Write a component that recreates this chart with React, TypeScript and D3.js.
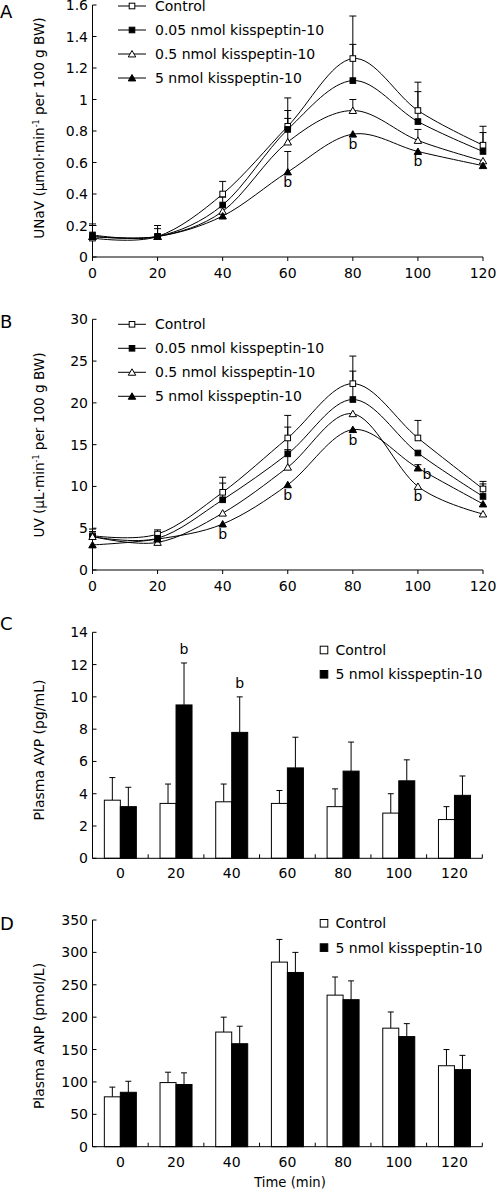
import React from "react";
import * as d3 from "d3";

// ---------- data ----------
const times = [0, 20, 40, 60, 80, 100, 120];
const lineSeriesNames = [
  "Control",
  "0.05 nmol kisspeptin-10",
  "0.5 nmol kisspeptin-10",
  "5 nmol kisspeptin-10",
];
const barSeriesNames = ["Control", "5 nmol kisspeptin-10"];

// Panel A: UNaV (µmol·min-1 per 100 g BW)
const unavControl = [0.12, 0.13, 0.4, 0.83, 1.26, 0.93, 0.71];
const unav005 = [0.14, 0.13, 0.33, 0.81, 1.12, 0.86, 0.67];
const unav05 = [0.13, 0.13, 0.29, 0.73, 0.93, 0.74, 0.61];
const unav5 = [0.13, 0.13, 0.26, 0.54, 0.78, 0.67, 0.58];
const unavControlSE = [0.09, 0.07, 0.08, 0.18, 0.27, 0.18, 0.12];
const unav005SE = [0.06, 0.05, 0.05, 0.12, 0.23, 0.19, 0.12];
const unav05SE = [0, 0, 0, 0.15, 0.07, 0.07, 0];
const unav5SE = [0, 0, 0, 0.13, 0, 0, 0];
const unavSig = [
  { s: 3, t: 60, beside: false },
  { s: 3, t: 80, beside: false },
  { s: 3, t: 100, beside: false },
];

// Panel B: UV (µL·min-1 per 100 g BW)
const uvControl = [4.1, 4.3, 9.3, 15.8, 22.3, 15.8, 9.7];
const uv005 = [4.0, 3.8, 8.4, 13.9, 20.4, 14.0, 8.8];
const uv05 = [4.0, 3.3, 6.8, 12.3, 18.7, 10.0, 6.7];
const uv5 = [3.0, 3.7, 5.5, 10.2, 16.8, 12.2, 7.9];
const uvControlSE = [0.8, 0.5, 1.8, 2.7, 3.3, 2.1, 0.9];
const uv005SE = [0.6, 0.7, 2.0, 3.2, 3.4, 0, 1.5];
const uv05SE = [0, 0, 0, 2.1, 0, 0, 0];
const uv5SE = [0, 0, 0, 0, 0, 0.4, 0];
const uvSig = [
  { s: 3, t: 40, beside: false },
  { s: 3, t: 60, beside: false },
  { s: 3, t: 80, beside: false },
  { s: 3, t: 100, beside: true },
  { s: 2, t: 100, beside: false },
];

// Panel C: Plasma AVP (pg/mL)
const avpControl = [3.6, 3.4, 3.5, 3.4, 3.2, 2.8, 2.4];
const avpControlSE = [1.4, 1.2, 1.1, 0.8, 1.1, 1.2, 0.8];
const avpKiss = [3.2, 9.5, 7.8, 5.6, 5.4, 4.8, 3.9];
const avpKissSE = [1.2, 2.6, 2.2, 1.9, 1.8, 1.3, 1.2];
const avpSig = [20, 40];

// Panel D: Plasma ANP (pmol/L)
const anpControl = [77, 99, 177, 285, 234, 183, 125];
const anpControlSE = [15, 16, 23, 35, 28, 25, 25];
const anpKiss = [84, 96, 159, 269, 227, 170, 119];
const anpKissSE = [17, 18, 27, 31, 29, 20, 22];
const anpSig: number[] = [];

// ---------- drawing ----------
const FONT = "DejaVu Sans";
const TICK_FS = 14;

function Marker({ kind, x, y }: { kind: number; x: number; y: number }) {
  const filled = kind === 1 || kind === 3;
  const fill = filled ? "#000" : "#fff";
  if (kind < 2) {
    const s = 5.6;
    return (
      <rect x={x - s / 2} y={y - s / 2} width={s} height={s} fill={fill} stroke="#000" strokeWidth={1} />
    );
  }
  const p = d3.symbol(d3.symbolTriangle, 24)();
  return <path d={p || ""} transform={`translate(${x},${y + 0.8})`} fill={fill} stroke="#000" strokeWidth={1} />;
}

function YTitle({ cx, cy, fs, children }: any) {
  return (
    <text
      transform={`translate(${cx},${cy}) rotate(-90)`}
      textAnchor="middle"
      fontFamily={FONT}
      fontSize={fs}
    >
      {children}
    </text>
  );
}

function LinePanel(props: {
  letter: string;
  letterY: number;
  yTop: number;
  yBottom: number;
  yMax: number;
  yStep: number;
  means: number[][];
  ses: number[][];
  sig: { s: number; t: number; beside: boolean }[];
  legendY: number;
  title: React.ReactNode;
  titleCY: number;
}) {
  const { yTop, yBottom, yMax, yStep, means, ses, sig } = props;
  const x = d3.scaleLinear().domain([0, 120]).range([92.5, 483]);
  const y = d3.scaleLinear().domain([0, yMax]).range([yBottom, yTop]);
  const n = Math.round(yMax / yStep);
  const yTicks = d3.range(n + 1).map((i) => +(i * yStep).toFixed(2));
  const line = d3
    .line<number>()
    .x((_, i) => x(times[i]))
    .y((d) => y(d))
    .curve(d3.curveCardinal.tension(0));
  return (
    <g>
      <text x={0} y={props.letterY} fontFamily={FONT} fontSize={18}>
        {props.letter}
      </text>
      <YTitle cx={44} cy={props.titleCY} fs={13.6}>
        {props.title}
      </YTitle>
      {/* axes */}
      <line x1={x(0)} x2={x(0)} y1={yTop} y2={yBottom} stroke="#000" />
      <line x1={x(0)} x2={x(120)} y1={yBottom} y2={yBottom} stroke="#000" />
      {yTicks.map((t) => (
        <g key={"y" + t}>
          <line x1={x(0)} x2={x(0) + 4} y1={y(t)} y2={y(t)} stroke="#000" />
          <text x={88} y={y(t)} dy="0.36em" textAnchor="end" fontFamily={FONT} fontSize={TICK_FS}>
            {String(t)}
          </text>
        </g>
      ))}
      {times.map((t) => (
        <g key={"x" + t}>
          <line x1={x(t)} x2={x(t)} y1={yBottom} y2={yBottom + 4} stroke="#000" />
          <text x={x(t)} y={yBottom + 21} textAnchor="middle" fontFamily={FONT} fontSize={TICK_FS}>
            {t}
          </text>
        </g>
      ))}
      {/* error bars */}
      {means.map((m, si) =>
        m.map((v, i) =>
          ses[si][i] > 0 ? (
            <g key={`e${si}-${i}`} stroke="#000">
              <line x1={x(times[i])} x2={x(times[i])} y1={y(v)} y2={y(v + ses[si][i])} />
              <line x1={x(times[i]) - 3.5} x2={x(times[i]) + 3.5} y1={y(v + ses[si][i])} y2={y(v + ses[si][i])} />
            </g>
          ) : null
        )
      )}
      {/* lines */}
      {means.map((m, si) => (
        <path key={"l" + si} d={line(m) || ""} fill="none" stroke="#000" strokeWidth={1} />
      ))}
      {/* markers */}
      {means.map((m, si) =>
        m.map((v, i) => <Marker key={`m${si}-${i}`} kind={si} x={x(times[i])} y={y(v)} />)
      )}
      {/* significance */}
      {sig.map((s, k) => {
        const i = times.indexOf(s.t);
        const px = x(s.t) + (s.beside ? 9 : 0);
        const py = y(means[s.s][i]) + (s.beside ? 11 : 15);
        return (
          <text key={"b" + k} x={px} y={py} textAnchor="middle" fontFamily={FONT} fontSize={TICK_FS}>
            b
          </text>
        );
      })}
      {/* legend */}
      {lineSeriesNames.map((name, si) => {
        const ly = props.legendY + si * 24;
        return (
          <g key={"lg" + si}>
            <line x1={118} x2={146} y1={ly} y2={ly} stroke="#000" />
            <Marker kind={si} x={132} y={ly} />
            <text x={155} y={ly} dy="0.36em" fontFamily={FONT} fontSize={TICK_FS}>
              {name}
            </text>
          </g>
        );
      })}
    </g>
  );
}

function BarPanel(props: {
  letter: string;
  letterY: number;
  yTop: number;
  yBottom: number;
  yMax: number;
  yStep: number;
  control: number[];
  controlSE: number[];
  kiss: number[];
  kissSE: number[];
  sig: number[];
  legendY: number;
  legendX: number;
  title: React.ReactNode;
  titleCY: number;
  xTitle?: string;
}) {
  const { yTop, yBottom, yMax, yStep } = props;
  const x = d3.scaleBand<number>().domain(times).range([92.5, 482.3]).paddingInner(0).paddingOuter(0);
  const barW = 16;
  const sub = d3.scaleBand<number>().domain([0, 1]).range([-barW, barW]);
  const y = d3.scaleLinear().domain([0, yMax]).range([yBottom, yTop]);
  const n = Math.round(yMax / yStep);
  const yTicks = d3.range(n + 1).map((i) => +(i * yStep).toFixed(2));
  const groups = [
    { vals: props.control, se: props.controlSE, fill: "#fff" },
    { vals: props.kiss, se: props.kissSE, fill: "#000" },
  ];
  const bounds = d3.range(times.length + 1).map((i) => 92.5 + i * x.step());
  return (
    <g>
      <text x={0} y={props.letterY} fontFamily={FONT} fontSize={18}>
        {props.letter}
      </text>
      <YTitle cx={44} cy={props.titleCY} fs={14}>
        {props.title}
      </YTitle>
      {groups.map((g, gi) =>
        g.vals.map((v, i) => {
          const cx = (x(times[i]) as number) + x.bandwidth() / 2;
          const bx = cx + (sub(gi) as number);
          const top = y(v);
          const ex = bx + barW / 2;
          const et = y(v + g.se[i]);
          return (
            <g key={`b${gi}-${i}`}>
              <line x1={ex} x2={ex} y1={top} y2={et} stroke="#000" />
              <line x1={ex - 3} x2={ex + 3} y1={et} y2={et} stroke="#000" />
              <rect x={bx} y={top} width={barW} height={yBottom - top} fill={g.fill} stroke="#000" strokeWidth={1} />
            </g>
          );
        })
      )}
      {props.sig.map((t) => {
        const i = times.indexOf(t);
        const cx = (x(t) as number) + x.bandwidth() / 2 + (sub(1) as number) + barW / 2;
        return (
          <text key={"s" + t} x={cx} y={y(props.kiss[i] + props.kissSE[i]) - 9} textAnchor="middle" fontFamily={FONT} fontSize={TICK_FS}>
            b
          </text>
        );
      })}
      <line x1={92.5} x2={92.5} y1={yTop} y2={yBottom} stroke="#000" />
      <line x1={92.5} x2={482.3} y1={yBottom} y2={yBottom} stroke="#000" />
      {yTicks.map((t) => (
        <g key={"y" + t}>
          <line x1={92.5} x2={96.5} y1={y(t)} y2={y(t)} stroke="#000" />
          <text x={88} y={y(t)} dy="0.36em" textAnchor="end" fontFamily={FONT} fontSize={TICK_FS}>
            {String(t)}
          </text>
        </g>
      ))}
      {bounds.map((b, i) => (
        <line key={"xt" + i} x1={b} x2={b} y1={yBottom} y2={yBottom - 4} stroke="#000" />
      ))}
      {times.map((t) => (
        <text key={"xl" + t} x={(x(t) as number) + x.bandwidth() / 2} y={yBottom + 20} textAnchor="middle" fontFamily={FONT} fontSize={TICK_FS}>
          {t}
        </text>
      ))}
      {props.xTitle ? (
        <text x={290} y={yBottom + 40.5} textAnchor="middle" fontFamily={FONT} fontSize={13.2}>
          {props.xTitle}
        </text>
      ) : null}
      {barSeriesNames.map((name, gi) => {
        const ly = props.legendY + gi * 24.3;
        return (
          <g key={"lg" + gi}>
            <rect x={props.legendX - 3.8} y={ly - 3.8} width={7.6} height={7.6} fill={groups[gi].fill} stroke="#000" />
            <text x={props.legendX + 11.5} y={ly} dy="0.36em" fontFamily={FONT} fontSize={TICK_FS}>
              {name}
            </text>
          </g>
        );
      })}
    </g>
  );
}

export default function App() {
  const sup = (s: string) => (
    <tspan fontSize={8} dy={-5}>
      {s}
    </tspan>
  );
  return (
    <svg
      width={500}
      height={1191}
      style={{ position: "absolute", left: 0, top: 0, background: "#fff" }}
    >
      <rect width={500} height={1191} fill="#fff" />
      <LinePanel
        letter="A"
        letterY={18}
        yTop={5}
        yBottom={257}
        yMax={1.6}
        yStep={0.2}
        means={[unavControl, unav005, unav05, unav5]}
        ses={[unavControlSE, unav005SE, unav05SE, unav5SE]}
        sig={unavSig}
        legendY={6}
        titleCY={128}
        title={
          <>
            <tspan>UNaV (μmol·min</tspan>
            {sup("-1")}
            <tspan dy={5}> per 100 g BW)</tspan>
          </>
        }
      />
      <LinePanel
        letter="B"
        letterY={328}
        yTop={319.3}
        yBottom={570}
        yMax={30}
        yStep={5}
        means={[uvControl, uv005, uv05, uv5]}
        ses={[uvControlSE, uv005SE, uv05SE, uv5SE]}
        sig={uvSig}
        legendY={324.3}
        titleCY={445}
        title={
          <>
            <tspan>UV (μL·min</tspan>
            {sup("-1")}
            <tspan dy={5}> per 100 g BW)</tspan>
          </>
        }
      />
      <BarPanel
        letter="C"
        letterY={630}
        yTop={632.3}
        yBottom={858.3}
        yMax={14}
        yStep={2}
        control={avpControl}
        controlSE={avpControlSE}
        kiss={avpKiss}
        kissSE={avpKissSE}
        sig={avpSig}
        legendX={324}
        legendY={650}
        titleCY={750}
        title="Plasma AVP (pg/mL)"
      />
      <BarPanel
        letter="D"
        letterY={930}
        yTop={920}
        yBottom={1146.7}
        yMax={350}
        yStep={50}
        control={anpControl}
        controlSE={anpControlSE}
        kiss={anpKiss}
        kissSE={anpKissSE}
        sig={anpSig}
        legendX={324}
        legendY={923.3}
        titleCY={1036}
        title="Plasma ANP (pmol/L)"
        xTitle="Time (min)"
      />
    </svg>
  );
}
